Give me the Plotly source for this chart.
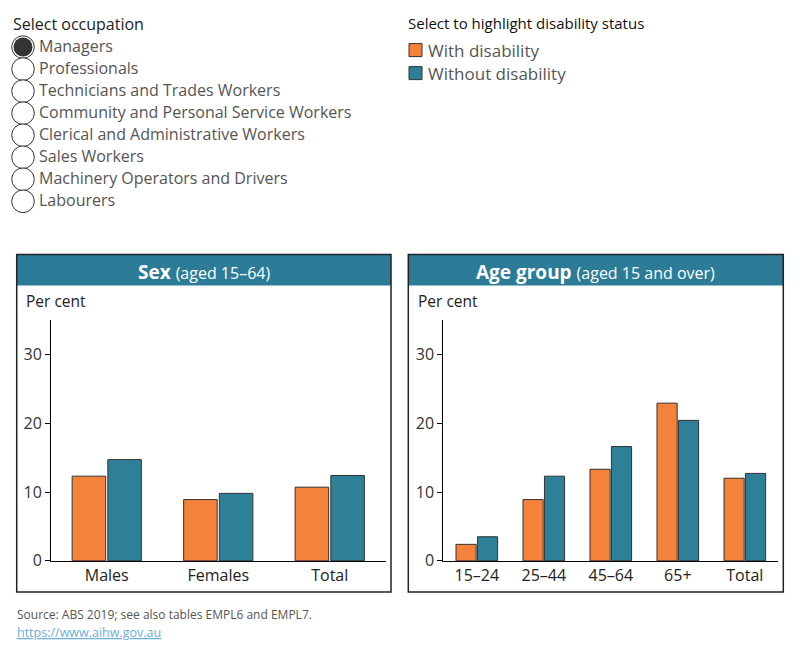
import plotly.graph_objects as go

# ---------------- data ----------------
occupations = ["Managers", "Professionals", "Technicians and Trades Workers",
               "Community and Personal Service Workers", "Clerical and Administrative Workers",
               "Sales Workers", "Machinery Operators and Drivers", "Labourers"]
series_names = ["With disability", "Without disability"]

sex_categories = ["Males", "Females", "Total"]
sex_with = [12.3, 8.9, 10.7]
sex_without = [14.7, 9.8, 12.4]

age_categories = ["15–24", "25–44", "45–64", "65+", "Total"]
age_with = [2.4, 8.9, 13.3, 22.9, 12.0]
age_without = [3.5, 12.3, 16.6, 20.4, 12.7]

y_ticks = [0, 10, 20, 30]

# ---------------- style ----------------
W, H = 800, 650
H_EFF = 638  # rendered height observed in the capture
FONT = "Open Sans"
ORANGE = "#f4823b"
TEAL = "#2e7f98"
HEADER = "#2c7c98"
OUTLINE = "#333333"
TEXT = "#333333"


def px(x):
    return x / W


def py(y):
    return 1 - y / H_EFF


fig = go.Figure()

for xa, ya, cats, w, wo in [("x", "y", sex_categories, sex_with, sex_without),
                            ("x2", "y2", age_categories, age_with, age_without)]:
    fig.add_trace(go.Bar(x=cats, y=w, name=series_names[0], xaxis=xa, yaxis=ya,
                         marker=dict(color=ORANGE, line=dict(color=OUTLINE, width=1)),
                         showlegend=False))
    fig.add_trace(go.Bar(x=cats, y=wo, name=series_names[1], xaxis=xa, yaxis=ya,
                         marker=dict(color=TEAL, line=dict(color=OUTLINE, width=1)),
                         showlegend=False))

y_dom = [py(560), py(319.3)]
common_y = dict(range=[0, 35], tickvals=y_ticks, showgrid=False, zeroline=False,
                showline=True, linecolor="#000000", linewidth=1, ticks="outside",
                ticklen=5, tickcolor="#000000",
                tickfont=dict(family=FONT, size=16, color=TEXT), fixedrange=True)
common_x = dict(showgrid=False, zeroline=False, showline=True, linecolor="#000000",
                linewidth=1, ticks="", tickfont=dict(family=FONT, size=16, color="#222222"),
                fixedrange=True)

fig.update_layout(
    width=W, height=H, autosize=False, margin=dict(l=0, r=0, t=0, b=0, pad=0),
    paper_bgcolor="white", plot_bgcolor="white",
    barmode="group", bargap=0.36, bargroupgap=0.06,
    font=dict(family=FONT, color=TEXT),
    xaxis=dict(domain=[px(51), px(385.5)], anchor="y", **common_x),
    yaxis=dict(domain=y_dom, anchor="x", **common_y),
    xaxis2=dict(domain=[px(443.3), px(778.3)], anchor="y2", **common_x),
    yaxis2=dict(domain=y_dom, anchor="x2", **common_y),
)

shapes = []
annotations = []

# panel frames and headers
for (x0, x1, title) in [(16.7, 391, "<b>Sex</b> <span style='font-size:16px'>(aged 15–64)</span>"),
                        (408.3, 783.3, "<b>Age group</b> <span style='font-size:16px'>(aged 15 and over)</span>")]:
    shapes.append(dict(type="rect", xref="paper", yref="paper", x0=px(x0), x1=px(x1),
                       y0=py(285), y1=py(254), fillcolor=HEADER, line=dict(width=0), layer="below"))
    shapes.append(dict(type="rect", xref="paper", yref="paper", x0=px(x0), x1=px(x1),
                       y0=py(591), y1=py(254), line=dict(color="#222222", width=1.5),
                       fillcolor="rgba(0,0,0,0)"))
    annotations.append(dict(xref="paper", yref="paper", x=px((x0 + x1) / 2), y=py(272),
                            text=title, showarrow=False, xanchor="center", yanchor="middle",
                            font=dict(family=FONT, size=19, color="white")))
    annotations.append(dict(xref="paper", yref="paper", x=px(x0 + 7.5), y=py(300.5),
                            text="Per cent", showarrow=False, xanchor="left", yanchor="middle",
                            font=dict(family=FONT, size=15.5, color="#222222")))

# occupation selector
annotations.append(dict(xref="paper", yref="paper", x=px(11), y=py(24),
                        text="Select occupation", showarrow=False, xanchor="left",
                        yanchor="middle", font=dict(family=FONT, size=16, color="#222222")))
for i, occ in enumerate(occupations):
    cy = 47 + 22 * i
    shapes.append(dict(type="circle", xref="paper", yref="paper",
                       x0=px(11.7), x1=px(34.3), y0=py(cy + 11.3), y1=py(cy - 11.3),
                       line=dict(color="#333333", width=1), fillcolor="white"))
    if i == 0:
        shapes.append(dict(type="circle", xref="paper", yref="paper",
                           x0=px(13.5), x1=px(32.5), y0=py(cy + 9.5), y1=py(cy - 9.5),
                           line=dict(width=0), fillcolor="#333333"))
    annotations.append(dict(xref="paper", yref="paper", x=px(36.5), y=py(cy - 1),
                            text=occ, showarrow=False, xanchor="left", yanchor="middle",
                            font=dict(family=FONT, size=16, color="#555555")))

# disability legend
annotations.append(dict(xref="paper", yref="paper", x=px(406), y=py(23),
                        text="Select to highlight disability status", showarrow=False,
                        xanchor="left", yanchor="middle",
                        font=dict(family=FONT, size=15, color="#111111")))
for i, (name, col) in enumerate(zip(series_names, [ORANGE, TEAL])):
    cy = 50 + 23 * i
    shapes.append(dict(type="rect", xref="paper", yref="paper", x0=px(409), x1=px(422),
                       y0=py(cy + 6.5), y1=py(cy - 6.5), fillcolor=col,
                       line=dict(color="#333333", width=1)))
    annotations.append(dict(xref="paper", yref="paper", x=px(426), y=py(cy),
                            text=name, showarrow=False, xanchor="left", yanchor="middle",
                            font=dict(family=FONT, size=17, color="#555555")))

# source
annotations.append(dict(xref="paper", yref="paper", x=px(15), y=py(614),
                        text="Source: ABS 2019; see also tables EMPL6 and EMPL7.",
                        showarrow=False, xanchor="left", yanchor="middle",
                        font=dict(family=FONT, size=12, color="#555555")))
annotations.append(dict(xref="paper", yref="paper", x=px(15), y=py(632),
                        text="<u>https://www.aihw.gov.au</u>",
                        showarrow=False, xanchor="left", yanchor="middle",
                        font=dict(family=FONT, size=12.5, color="#6aaed6")))

fig.update_layout(shapes=shapes, annotations=annotations)
fig.write_html("out.html", default_width="800px", default_height="650px")
